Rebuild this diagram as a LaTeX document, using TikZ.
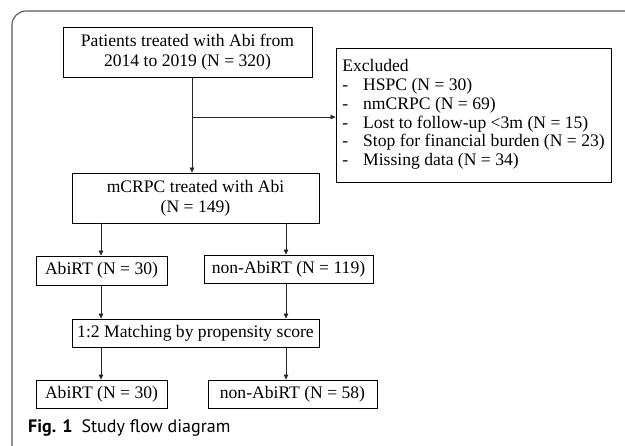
\documentclass[tikz,border=0pt]{standalone}
\usepackage{fontspec}
\setmainfont{Liberation Serif}
\newfontfamily\capfont{PT Sans}
\usetikzlibrary{arrows.meta}
\begin{document}
\begin{tikzpicture}[x=1pt,y=-1pt,
  box/.style={draw=black,line width=0.8pt,inner sep=0pt,align=center,
    font=\fontsize{17.6}{20}\selectfont},
  arr/.style={draw=black!85,line width=0.7pt,-{Triangle[length=5pt,width=4.5pt]}},
  lin/.style={draw=black!85,line width=0.7pt}]
\useasboundingbox (0,0) rectangle (625,446);
\draw[black!65,line width=1.1pt] (12,446) -- (12,25) arc[start angle=180,end angle=270,radius=14] -- (626,11);
\node[box,minimum width=249,minimum height=50] (b1) at (187.5,52) {Patients treated with Abi from\\2014 to 2019 (N = 320)};
\node[box,minimum width=275,minimum height=134,align=left] (ex) at (473.5,115) {%
  \fontsize{17.6}{18.7}\selectfont
  \begin{tabular}{@{}l@{\hspace{15pt}}l@{}}
  \multicolumn{2}{@{}l@{}}{Excluded}\\
  -&HSPC (N = 30)\\
  -&nmCRPC (N = 69)\\
  -&Lost to follow-up <3m (N = 15)\\
  -&Stop for financial burden (N = 23)\\
  -&Missing data (N = 34)
  \end{tabular}};
\node[box,minimum width=247,minimum height=50] (mc) at (195.5,198) {mCRPC treated with Abi\\(N = 149)};
\node[box,minimum width=131,minimum height=29] (a1) at (101.5,270.5) {AbiRT (N = 30)};
\node[box,minimum width=169,minimum height=28] (n1) at (288.5,269) {non-AbiRT (N = 119)};
\node[box,minimum width=247,minimum height=28] (m) at (195.5,333) {1:2 Matching by propensity score};
\node[box,minimum width=131,minimum height=28] (a2) at (101.5,394) {AbiRT (N = 30)};
\node[box,minimum width=169,minimum height=28] (n2) at (292.5,394) {non-AbiRT (N = 58)};
\coordinate (j) at (192,117);
\coordinate (cl) at (101,0);
\coordinate (cr) at (286,0);
\draw[arr] (j |- b1.south) -- (j |- mc.north);
\draw[arr] (j) -- (j -| ex.west);
\draw[arr] (cl |- mc.south) -- (cl |- a1.north);
\draw[arr] (cr |- mc.south) -- (cr |- n1.north);
\draw[arr] (cl |- a1.south) -- (cl |- m.north);
\draw[arr] (cr |- n1.south) -- (cr |- m.north);
\draw[arr] (cl |- m.south) -- (cl |- a2.north);
\draw[arr] (cr |- m.south) -- (cr |- n2.north);
\node[anchor=base west,inner sep=0pt,font=\capfont\fontsize{18}{20}\selectfont] (cap) at (28,433) {\textbf{Fig. 1}\hspace{9pt}Study flow diagram};
\end{tikzpicture}
\end{document}
